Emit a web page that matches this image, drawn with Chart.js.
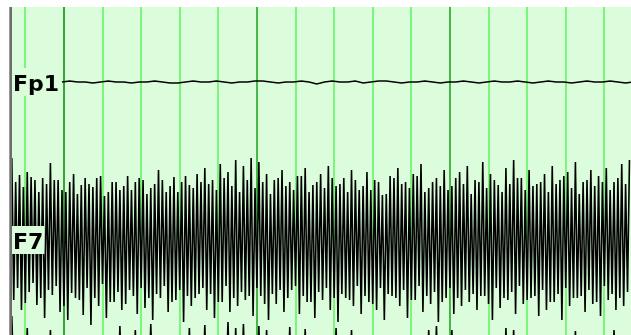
<!DOCTYPE html>
<html>
<head>
<meta charset="utf-8">
<script src="https://cdn.jsdelivr.net/npm/chart.js@4.4.1/dist/chart.umd.min.js"></script>
<style>
  html, body { margin: 0; padding: 0; background: #ffffff; }
  #wrap { position: relative; width: 631px; height: 335px; }
</style>
</head>
<body>
<div id="wrap"><canvas id="c"></canvas></div>
<script>
// ---- data (seconds on x, amplitude in display units, positive = up) ----
const channelNames = ["Fp1", "F7", "F3"];
const channelBaselines = [82, 240, 400];

const timeStart = -0.345;
const timeEnd = 15.69;
const gridSeconds = [0,1,2,3,4,5,6,7,8,9,10,11,12,13,14,15];

const fp1Start = 0.95;
const fp1Step = 0.2;
const fp1Values = [0,1,0,0,-1,0,1,0,0,-1, 0,0,1,0,-1,-1,0,1,0,0,
  1,0,-1,0,0,1,1,0,-1,0, 0,1,0,-2,0,1,0,0,1,-1,
  0,1,1,0,-1,0,0,1,0,-1, 0,0,1,0,-1,0,1,0,0,1,
  0,-1,0,1,0,0,-1,0,1,0, 0,1,0,-1,0];

const f7Start = -0.35;
const f7Step = 0.05;
const f7Values = [
  82,-60,58,-48, 65,-70,53,-63, 68,-52,63,-43, 60,-65,48,-58, 62,-78,56,-50,
  77,-55,60,-46, 60,-72,50,-66, 48,-80,58,-53, 66,-58,46,-60, 55,-75,62,-48,
  56,-85,53,-58, 62,-66,64,-44, 44,-78,48,-62, 58,-62,58,-52, 50,-70,54,-64,
  64,-50,50,-56, 58,-74,62,-48, 60,-68,46,-58, 52,-80,56,-54, 70,-58,60,-46,
  48,-72,54,-62, 63,-60,48,-50, 58,-82,64,-56, 55,-66,52,-58, 66,-54,58,-48,
  72,-70,56,-54, 60,-78,50,-62, 76,-62,62,-46, 68,-72,54,-58, 80,-66,48,-52,
  74,-60,60,-56, 82,-76,52,-48, 78,-56,58,-64, 66,-80,46,-54, 60,-64,62,-50,
  70,-72,54,-58, 58,-50,50,-46, 64,-74,64,-56, 72,-62,48,-62, 55,-78,58,-52,
  66,-60,52,-48, 74,-70,62,-58, 54,-82,56,-54, 62,-58,48,-60, 70,-66,60,-46,
  50,-74,54,-56, 68,-62,50,-64, 60,-70,58,-48, 45,-80,46,-54, 64,-56,62,-58,
  72,-66,56,-50, 58,-78,52,-60, 66,-60,64,-46, 76,-72,48,-56, 52,-64,58,-52,
  62,-82,54,-62, 70,-58,50,-48, 54,-74,62,-58, 68,-66,56,-50, 74,-62,46,-54,
  60,-70,58,-56, 78,-56,52,-64, 66,-80,60,-48, 55,-68,48,-58, 72,-60,56,-52,
  80,-74,62,-46, 62,-64,50,-60, 70,-58,54,-56, 56,-76,58,-50, 66,-70,48,-62,
  74,-62,56,-54, 60,-80,64,-48, 68,-66,52,-58, 78,-58,46,-56, 58,-72,60,-50,
  70,-64,54,-62, 64,-76,58,-46, 72,-60,50,-54, 58,-70,62,-58, 76,-66,56,-52,
  80
];

const f3Start = -0.35;
const f3Step = 0.1;
const f3Values = [
  84,-50,55,-45,72,-55,48,-50,52,-60,
  70,-48,45,-52,58,-46,50,-58,44,-50,
  56,-54,48,-46,52,-60,46,-50,74,-56,
  50,-48,70,-52,54,-58,76,-46,50,-54,
  56,-50,46,-60,52,-48,72,-56,50,-52,
  75,-46,54,-58,48,-50,78,-54,72,-48,
  76,-56,52,-50,74,-60,70,-52,50,-46,
  56,-54,73,-50,48,-58,71,-46,52,-56,
  58,-50,46,-54,72,-48,54,-60,70,-52,
  50,-56,48,-46,56,-54,52,-50,46,-58,
  54,-48,50,-56,58,-52,46,-50,70,-54,
  74,-48,52,-58,70,-50,48,-56,54,-46,
  50,-52,56,-60,48,-50,52,-54,72,-48,
  70,-56,50,-52,46,-58,54,-50,48,-46,
  56,-54,50,-52,52,-60,69,-48,54,-56,
  50,-50,46,-54,56,-52,70,-46,52,-58,
  50
];

// ---- build library data ----
function toPoints(start, step, values, baseline) {
  return values.map((v, i) => ({ x: start + i * step, y: baseline - v }));
}

const datasets = [
  { label: channelNames[0], data: toPoints(fp1Start, fp1Step, fp1Values, channelBaselines[0]), borderWidth: 1.4 },
  { label: channelNames[1], data: toPoints(f7Start, f7Step, f7Values, channelBaselines[1]), borderWidth: 1.6 },
  { label: channelNames[2], data: toPoints(f3Start, f3Step, f3Values, channelBaselines[2]), borderWidth: 1.6 }
].map(d => Object.assign(d, { borderColor: '#000000', pointRadius: 0, tension: 0, fill: false }));

const BG = '#dbfddb';

const eegPlugin = {
  id: 'eeg',
  beforeDatasetsDraw(chart) {
    const { ctx, chartArea: a, scales } = chart;
    ctx.save();
    ctx.fillStyle = BG;
    ctx.fillRect(a.left, a.top, a.right - a.left, a.bottom - a.top);
    gridSeconds.forEach(s => {
      const x = scales.x.getPixelForValue(s);
      ctx.fillStyle = s === 1 ? '#35a535' : (s % 5 === 1 ? '#48b848' : '#7cf57c');
      ctx.fillRect(Math.round(x) - 1, a.top, 2, a.bottom - a.top);
    });
    // left border
    ctx.fillStyle = '#9a9a9a';
    ctx.fillRect(a.left - 3, a.top, 1, a.bottom - a.top);
    ctx.fillStyle = '#6e6e6e';
    ctx.fillRect(a.left - 2, a.top, 2, a.bottom - a.top);
    ctx.restore();
  },
  afterDatasetsDraw(chart) {
    const { ctx, chartArea: a, scales } = chart;
    ctx.save();
    ctx.font = 'bold 22px "DejaVu Sans", Verdana, sans-serif';
    ctx.textBaseline = 'alphabetic';
    [0, 1].forEach(i => {
      const yb = scales.y.getPixelForValue(channelBaselines[i]);
      const w = ctx.measureText(channelNames[i]).width;
      ctx.fillStyle = BG;
      ctx.fillRect(a.left, yb - 14, w + 2, 28);
      ctx.fillStyle = '#000000';
      ctx.fillText(channelNames[i], a.left + 1, yb + 9);
    });
    ctx.restore();
  }
};

new Chart(document.getElementById('c'), {
  type: 'line',
  data: { datasets },
  options: {
    responsive: true,
    maintainAspectRatio: false,
    animation: false,
    events: [],
    layout: { padding: { left: 12, top: 7, right: 0, bottom: 0 } },
    plugins: { legend: { display: false }, tooltip: { enabled: false } },
    scales: {
      x: { type: 'linear', min: timeStart, max: timeEnd, display: false },
      y: { type: 'linear', min: 7, max: 335, reverse: true, display: false }
    }
  },
  plugins: [eegPlugin]
});
</script>
</body>
</html>
